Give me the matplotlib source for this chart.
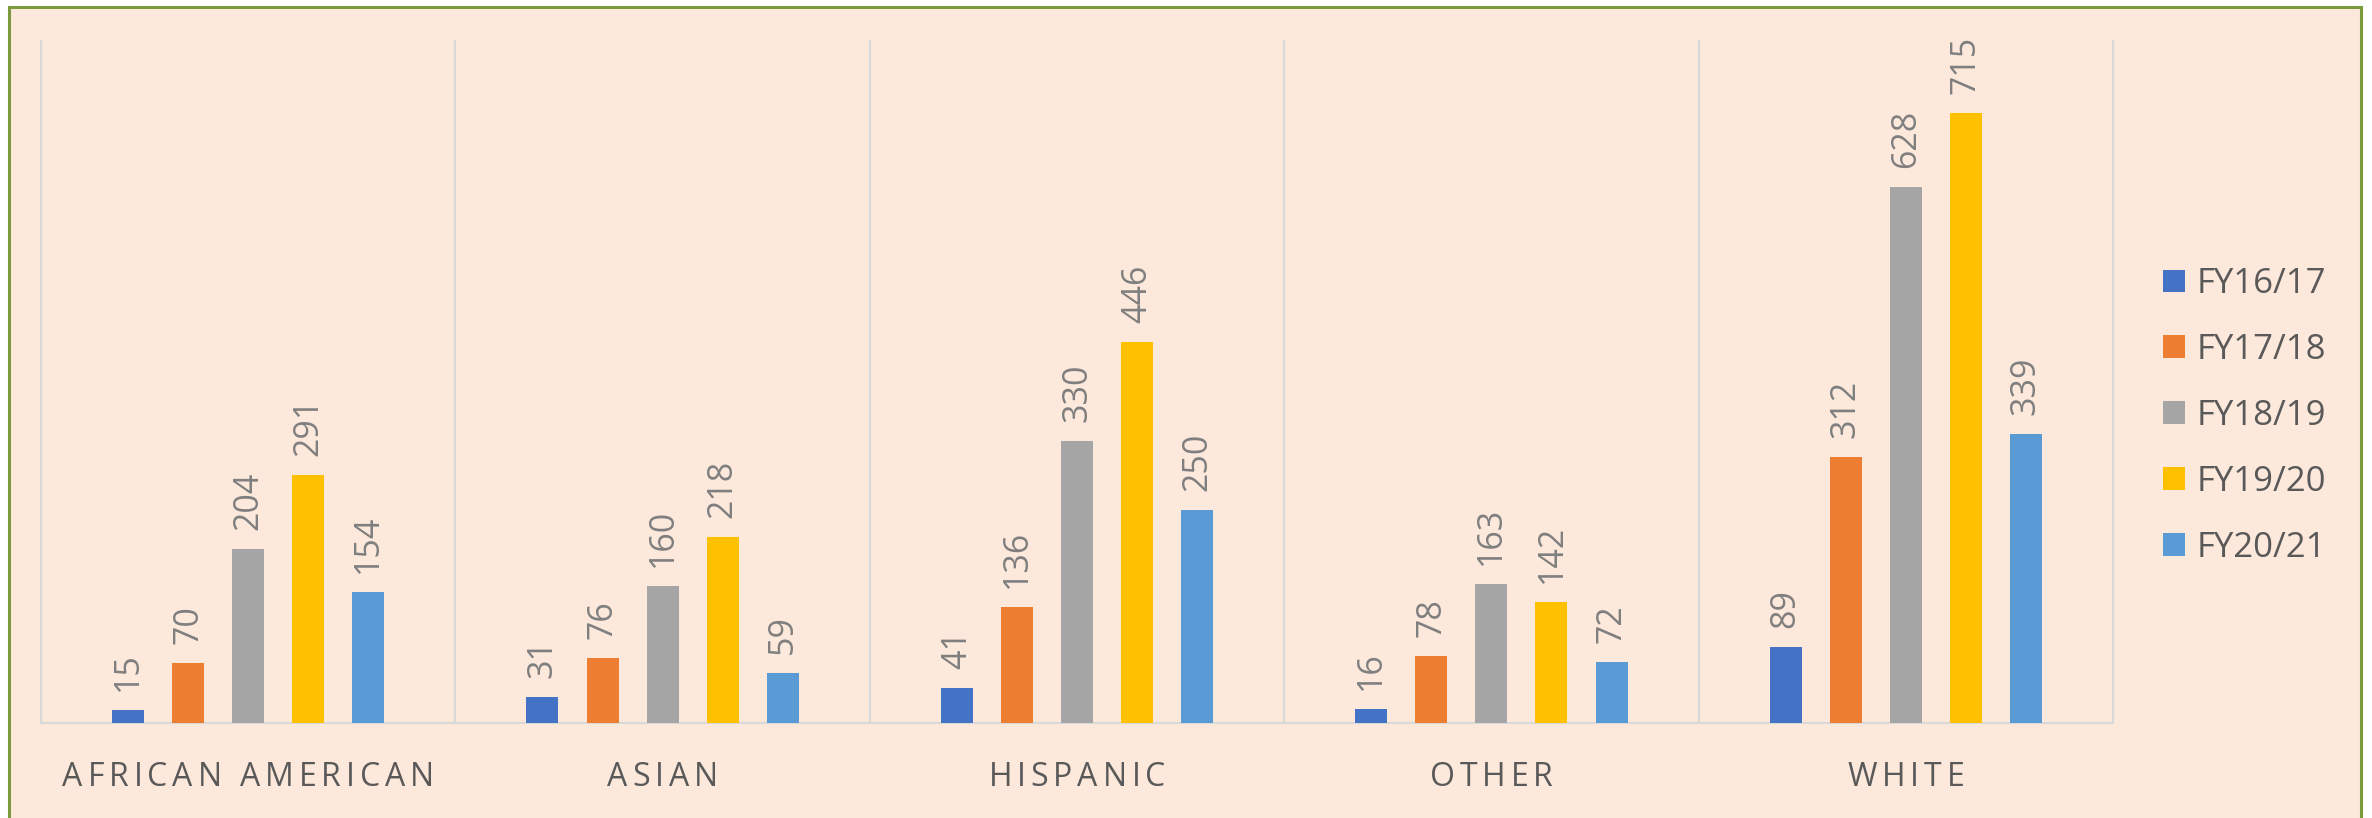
import matplotlib
matplotlib.use("Agg")
import matplotlib.pyplot as plt
import numpy as np
from matplotlib.patches import Rectangle
from matplotlib.font_manager import FontProperties, findfont
from matplotlib.ft2font import FT2Font

# ---------------- data ----------------
categories = ["AFRICAN AMERICAN", "ASIAN", "HISPANIC", "OTHER", "WHITE"]
series_names = ["FY16/17", "FY17/18", "FY18/19", "FY19/20", "FY20/21"]
fy16_17 = [15, 31, 41, 16, 89]
fy17_18 = [70, 76, 136, 78, 312]
fy18_19 = [204, 160, 330, 163, 628]
fy19_20 = [291, 218, 446, 142, 715]
fy20_21 = [154, 59, 250, 72, 339]
series = [fy16_17, fy17_18, fy18_19, fy19_20, fy20_21]
colors = ["#4472C4", "#ED7D31", "#A5A5A5", "#FFC000", "#5B9BD5"]

# ---------------- figure ----------------
W, H, DPI = 2372, 818, 100
fig = plt.figure(figsize=(W / DPI, H / DPI), dpi=DPI, facecolor="white")

def fx(px):
    return px / W

def fy(py):
    return 1 - py / H

BG = "#FDE9DB"
frame = Rectangle((fx(9), fy(840)), fx(2361) - fx(9), fy(7) - fy(840),
                  transform=fig.transFigure, facecolor=BG, edgecolor="#7A9A3C",
                  linewidth=2.2, zorder=-10)
fig.patches.append(frame)

FONT = "Open Sans"
ax = fig.add_axes([fx(41), fy(723), fx(2113) - fx(41), fy(40) - fy(723)])
ax.set_zorder(1)
ax.patch.set_visible(False)
ax.set_xlim(-0.5, len(categories) - 0.5)
ax.set_ylim(0, 800)
for s in ["top", "left", "right"]:
    ax.spines[s].set_visible(False)
ax.spines["bottom"].set_color("#D9D9D9")
ax.spines["bottom"].set_linewidth(1.6)
ax.set_xticks([])
ax.set_yticks([])

grid_color = "#D9D9D9"
ax.vlines(np.arange(-0.5, len(categories), 1.0), 0, 800, color=grid_color,
          linewidth=1.6, zorder=1, clip_on=False)

x = np.arange(len(categories))
bar_w = 32 / 414
step = 60 / 414
handles = []
for i, (vals, col, name) in enumerate(zip(series, colors, series_names)):
    pos = x + (i - 2) * step
    b = ax.bar(pos, vals, width=bar_w, color=col, zorder=3, label=name)
    handles.append(b)
    for p, v in zip(pos, vals):
        ax.annotate(str(v), (p, v), xytext=(0, 19 * 72 / DPI),
                    textcoords="offset points", rotation=90, ha="center",
                    va="bottom", fontsize=24.5, color="#7F7F7F", family=FONT)

leg = fig.legend(handles=handles, labels=series_names, loc="center left",
                 bbox_to_anchor=(fx(2163), fy(416)), frameon=False,
                 handlelength=0.63, handleheight=0.63,
                 handletextpad=0.34, labelspacing=0.92, borderpad=0,
                 borderaxespad=0, labelcolor="#595959",
                 prop={"family": FONT, "size": 25})

# ---------------- letter-spaced category labels ----------------
cat_size = 23
font_path = findfont(FontProperties(family=FONT))
ft = FT2Font(font_path)
ft.set_size(cat_size, DPI)
spacing = 4.9
baseline_px = 786.5

def advances(text):
    out = []
    for ch in text:
        g = ft.load_char(ord(ch))
        out.append(g.linearHoriAdvance / 65536.0)
    return out

for i, label in enumerate(categories):
    adv = advances(label)
    total = sum(adv) + spacing * (len(label) - 1)
    cx = ax.transData.transform((i, 0))[0]
    pen = cx - total / 2
    for ch, a in zip(label, adv):
        if ch != " ":
            fig.text(fx(pen + a / 2), fy(baseline_px), ch, ha="center",
                     va="baseline", fontsize=cat_size, color="#595959",
                     family=FONT)
        pen += a + spacing

fig.savefig("out.png", dpi=DPI, facecolor="white")
